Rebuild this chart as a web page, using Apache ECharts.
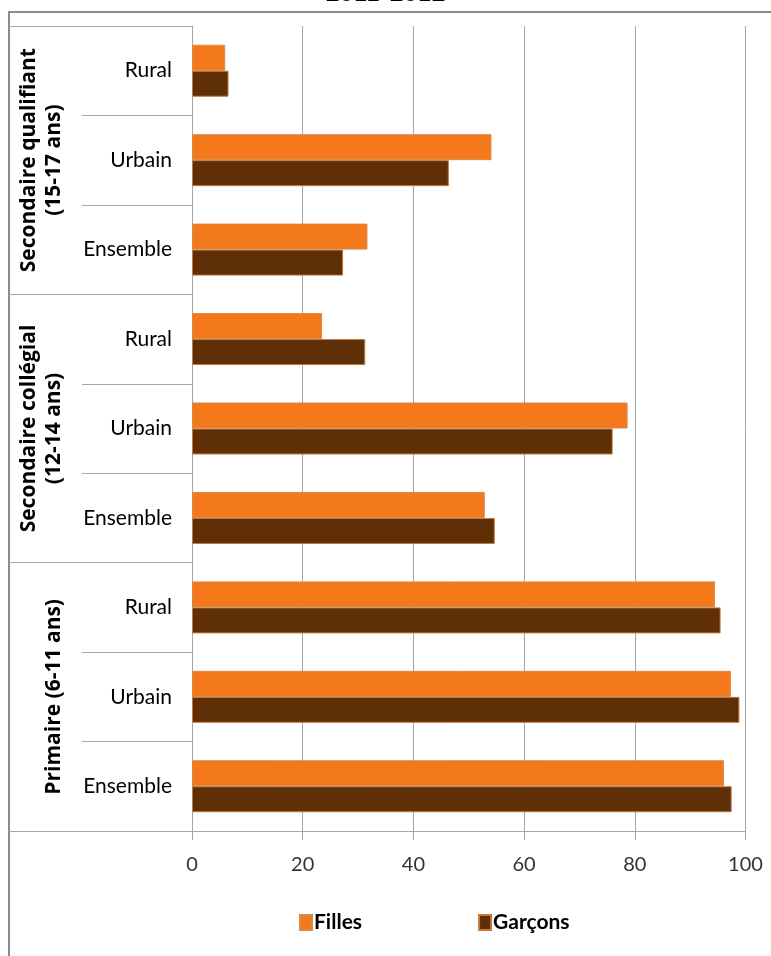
<!DOCTYPE html>
<html>
<head>
<meta charset="utf-8">
<script src="https://cdn.jsdelivr.net/npm/echarts@6/dist/echarts.min.js"></script>
<style>html,body{margin:0;padding:0;background:#fff}#c{width:771px;height:956px}</style>
</head>
<body>
<div id="c"></div>
<script>
const categories = ['Rural', 'Urbain', 'Ensemble', 'Rural', 'Urbain', 'Ensemble', 'Rural', 'Urbain', 'Ensemble'];
const groups = ['Secondaire qualifiant\n(15-17 ans)', 'Secondaire collégial\n(12-14 ans)', 'Primaire (6-11 ans)'];
const filles = [6.0, 54.1, 31.7, 23.5, 78.7, 52.9, 94.5, 97.4, 96.1];
const garcons = [6.6, 46.4, 27.3, 31.3, 76.0, 54.7, 95.5, 98.9, 97.5];
const xTicks = [0, 20, 40, 60, 80, 100];
const titleText = '2011-2012';

const chart = echarts.init(document.getElementById('c'), null, {renderer: 'canvas'});
const face = 'Lato, "Open Sans", sans-serif';
const gridColor = '#a6a6a6';
chart.setOption({
  animation: false,
  backgroundColor: '#fff',
  title: {
    text: titleText, left: 'center', top: -20, padding: 0,
    textStyle: {fontFamily: '"Liberation Serif", serif', fontWeight: 'bold', fontSize: 28, color: '#000'}
  },
  graphic: [{
    type: 'rect', shape: {x: 9, y: 12, width: 800, height: 1000},
    style: {fill: 'none', stroke: '#8c8c8c', lineWidth: 2}, z: -1
  }],
  legend: {
    data: ['Filles', 'Garçons'], left: 294, top: 907, itemWidth: 12, itemHeight: 15, itemGap: 116,
    textStyle: {fontFamily: face, fontSize: 21, fontWeight: 'bold', color: '#000', padding: [0, 0, 0, -3]},
    icon: 'rect'
  },
  grid: {left: 192, right: 25.5, top: 26, bottom: 125, containLabel: false},
  xAxis: {
    type: 'value', min: xTicks[0], max: xTicks[xTicks.length - 1], interval: xTicks[1] - xTicks[0],
    axisLine: {show: true, lineStyle: {color: gridColor, width: 1}},
    axisTick: {show: true, length: 9, lineStyle: {color: gridColor}},
    splitLine: {show: true, lineStyle: {color: gridColor, width: 1}},
    axisLabel: {margin: 24, fontFamily: face, fontSize: 20, color: '#333'}
  },
  yAxis: [{
    type: 'category', data: categories, inverse: true,
    axisLine: {show: true, lineStyle: {color: gridColor}},
    axisTick: {show: true, length: 110, interval: 0, lineStyle: {color: gridColor}},
    axisLabel: {margin: 20, fontFamily: face, fontSize: 21, color: '#000', interval: 0}
  }, {
    type: 'category', data: groups, inverse: true, position: 'left', offset: 110,
    axisLine: {show: false},
    axisTick: {show: true, length: 73, interval: 0, lineStyle: {color: gridColor}},
    axisLabel: {rotate: 90, margin: 15, fontFamily: '"Open Sans", sans-serif', fontWeight: 'bold', fontSize: 21, lineHeight: 25, color: '#000', interval: 0}
  }],
  series: [{
    name: 'Filles', type: 'bar', data: filles, yAxisIndex: 0,
    barWidth: 26, barGap: '0%',
    itemStyle: {color: '#F4791B', borderColor: '#d98a4a', borderWidth: 1}
  }, {
    name: 'Garçons', type: 'bar', data: garcons, yAxisIndex: 0,
    barWidth: 26, barGap: '0%',
    itemStyle: {color: '#5F2F07', borderColor: '#c4783a', borderWidth: 1}
  }]
});
</script>
</body>
</html>
